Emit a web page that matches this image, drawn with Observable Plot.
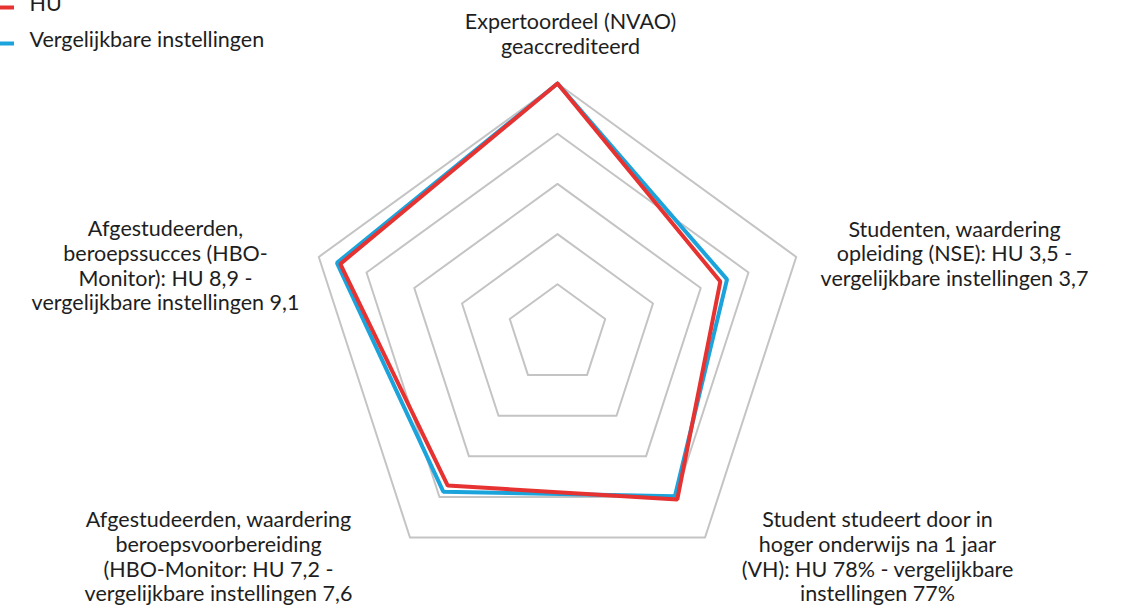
<!DOCTYPE html>
<html>
<head>
<meta charset="utf-8">
<script src="https://cdn.jsdelivr.net/npm/d3@7"></script>
<script src="https://cdn.jsdelivr.net/npm/@observablehq/plot@0.6"></script>
<style>
  html, body { margin: 0; padding: 0; background: #fff; }
  #chart svg { display: block; }
</style>
</head>
<body>
<div id="chart"></div>
<script>
// ---- data ----
const axisLabels = [
  "Expertoordeel (NVAO)\ngeaccrediteerd",
  "Studenten, waardering\nopleiding (NSE): HU 3,5 -\nvergelijkbare instellingen 3,7",
  "Student studeert door in\nhoger onderwijs na 1 jaar\n(VH): HU 78% - vergelijkbare\ninstellingen 77%",
  "Afgestudeerden, waardering\nberoepsvoorbereiding\n(HBO-Monitor: HU 7,2 -\nvergelijkbare instellingen 7,6",
  "Afgestudeerden,\nberoepssucces (HBO-\nMonitor): HU 8,9 -\nvergelijkbare instellingen 9,1"
];
const seriesNames = ["HU", "Vergelijkbare instellingen"];
const huValues = [5, 3.41, 4.06, 3.72, 4.55];
const vergValues = [5, 3.55, 3.98, 3.87, 4.62];
const gridLevels = [1, 2, 3, 4, 5];
const maxValue = 5;

// ---- layout / style ----
const W = 1122, H = 606;
const CX = 557, CY = 334, R = 251;
const colors = {"HU": "#e63331", "Vergelijkbare instellingen": "#1ba3dc"};
const labelPos = [ // pixel centers of label blocks
  [570, 33], [954, 253], [877, 556], [218, 556], [165, 265]
];
const ux = px => (px - CX) / R;
const uy = py => (CY - py) / R;

const n = axisLabels.length;
const angle = i => i * 2 * Math.PI / n;
const pt = (i, v) => ({x: (v / maxValue) * Math.sin(angle(i)), y: (v / maxValue) * Math.cos(angle(i))});

const gridData = gridLevels.flatMap(l =>
  d3.range(n + 1).map(i => ({...pt(i % n, l), level: l})));
const seriesData = (name, vals) => d3.range(n + 1).map(i => ({...pt(i % n, vals[i % n]), series: name}));
const verg = seriesData(seriesNames[1], vergValues);
const hu = seriesData(seriesNames[0], huValues);

const labels = axisLabels.map((t, i) => ({text: t, x: ux(labelPos[i][0]), y: uy(labelPos[i][1])}));

const legend = [
  {name: seriesNames[0], py: 7, ty: 4},
  {name: seriesNames[1], py: 43, ty: 40}
];

const font = "Lato, 'Open Sans', sans-serif";

const plot = Plot.plot({
  width: W, height: H,
  margin: 0,
  x: {domain: [ux(0), ux(W)], axis: null},
  y: {domain: [uy(H), uy(0)], axis: null},
  style: {fontFamily: font, background: "#fff"},
  marks: [
    Plot.line(gridData, {x: "x", y: "y", z: "level", stroke: "#c4c4c4", strokeWidth: 2, curve: "linear-closed"}),
    Plot.line(verg, {x: "x", y: "y", stroke: colors[seriesNames[1]], strokeWidth: 4, strokeLinejoin: "miter"}),
    Plot.line(hu, {x: "x", y: "y", stroke: colors[seriesNames[0]], strokeWidth: 4, strokeLinejoin: "miter"}),
    Plot.text(labels, {x: "x", y: "y", text: "text", textAnchor: "middle", lineAnchor: "middle",
      fontSize: 21.5, lineHeight: 1.15, fill: "#1e1e1e"}),
    Plot.ruleY(legend, {y: d => uy(d.py), x1: ux(0), x2: ux(14), stroke: d => colors[d.name], strokeWidth: 4}),
    Plot.text(legend, {x: ux(29), y: d => uy(d.ty), text: "name", textAnchor: "start", lineAnchor: "middle",
      fontSize: 21.5, fill: "#1e1e1e"})
  ]
});
document.getElementById("chart").appendChild(plot);
</script>
</body>
</html>
